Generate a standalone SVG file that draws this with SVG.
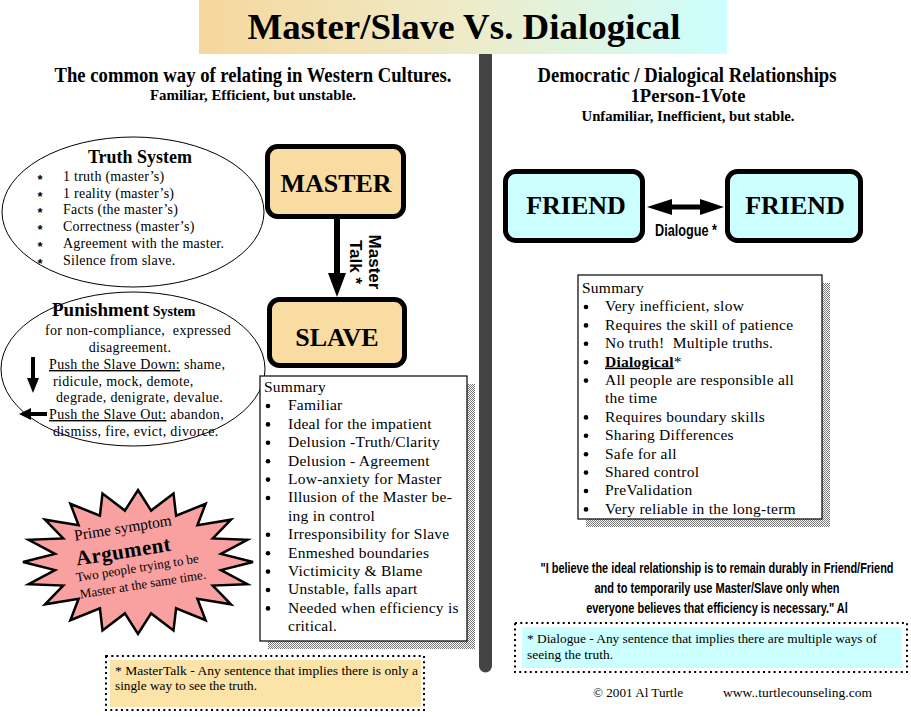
<svg xmlns="http://www.w3.org/2000/svg" width="911" height="717" viewBox="0 0 911 717">
<style>
.serif{font-family:"Liberation Serif","Times New Roman",serif;fill:#000}
.sans{font-family:"Liberation Sans",Arial,sans-serif;fill:#000}
.b{font-weight:bold}
.item{font-family:"Liberation Serif","Times New Roman",serif;font-size:14px;letter-spacing:0.25px;fill:#000}
.ast{font-family:"Liberation Sans",Arial,sans-serif;font-size:13px;font-weight:bold;fill:#000}
.pun{letter-spacing:0.35px}
.sum{font-family:"Liberation Serif","Times New Roman",serif;font-size:15.5px;letter-spacing:0.25px;fill:#000}
.node{stroke:#000;stroke-width:5}
.box{fill:#fff;stroke:#000;stroke-width:1.2}
.dots{fill:none;stroke:#000;stroke-width:2;stroke-dasharray:2 3.3}
.ell{fill:#fff;stroke:#000;stroke-width:1}
</style>
<defs>
<linearGradient id="tg" x1="0" y1="0" x2="1" y2="0">
<stop offset="0" stop-color="#F6D79C"/>
<stop offset="0.5" stop-color="#EEEBC8"/>
<stop offset="1" stop-color="#CCFFFF"/>
</linearGradient>
<pattern id="dither" width="2" height="2" patternUnits="userSpaceOnUse">
<rect width="2" height="2" fill="#fff"/>
<rect width="1" height="1" fill="#777"/>
<rect x="1" y="1" width="1" height="1" fill="#777"/>
</pattern>
</defs>
<rect width="911" height="717" fill="#fff"/>

<g id="title">
<rect x="199" y="0" width="528" height="54" fill="url(#tg)"/>
<text class="serif b" x="464" y="39" font-size="36" text-anchor="middle" textLength="433" lengthAdjust="spacingAndGlyphs">Master/Slave Vs. Dialogical</text>
</g>

<g id="divider">
<path d="M479,54 H492 V666 A6.5,6.5 0 0 1 479,666 Z" fill="#444"/>
</g>

<g id="heading-left">
<text class="serif b" x="253" y="82" font-size="20" text-anchor="middle" textLength="397" lengthAdjust="spacingAndGlyphs">The common way of relating in Western Cultures.</text>
<text class="serif b" x="253" y="100" font-size="15" text-anchor="middle" textLength="206" lengthAdjust="spacingAndGlyphs">Familiar, Efficient, but unstable.</text>
</g>

<g id="heading-right">
<text class="serif b" x="687" y="82" font-size="20" text-anchor="middle" textLength="299" lengthAdjust="spacingAndGlyphs">Democratic / Dialogical Relationships</text>
<text class="serif b" x="688" y="102" font-size="19" text-anchor="middle" textLength="115" lengthAdjust="spacingAndGlyphs">1Person-1Vote</text>
<text class="serif b" x="688" y="121" font-size="14" text-anchor="middle" textLength="213" lengthAdjust="spacingAndGlyphs">Unfamiliar, Inefficient, but stable.</text>
</g>

<g id="truth-system">
<ellipse class="ell" cx="133" cy="212" rx="131" ry="75"/>
<text class="serif b" x="140" y="163" font-size="18" text-anchor="middle">Truth System</text>
<g class="ast" text-anchor="middle">
<text x="40" y="184">*</text>
<text x="40" y="201">*</text>
<text x="40" y="217">*</text>
<text x="40" y="234">*</text>
<text x="40" y="251">*</text>
<text x="40" y="268">*</text>
</g>
<g class="item">
<text x="63" y="181">1 truth (master’s)</text>
<text x="63" y="198">1 reality (master’s)</text>
<text x="63" y="214">Facts (the master’s)</text>
<text x="63" y="231">Correctness (master’s)</text>
<text x="63" y="248">Agreement with the master.</text>
<text x="63" y="265">Silence from slave.</text>
</g>
</g>

<g id="punishment-system">
<ellipse class="ell" cx="133" cy="369" rx="132" ry="77"/>
<text class="serif b" x="52" y="316"><tspan font-size="19">Punishment</tspan><tspan font-size="14"> System</tspan></text>
<g class="item pun">
<text x="45" y="335" xml:space="preserve">for non-compliance,  expressed</text>
<text x="130" y="352" text-anchor="middle">disagreement.</text>
<text x="49" y="369"><tspan text-decoration="underline">Push the Slave Down:</tspan> shame,</text>
<text x="53" y="386">ridicule, mock, demote,</text>
<text x="56" y="402">degrade, denigrate, devalue.</text>
<text x="49" y="419"><tspan text-decoration="underline">Push the Slave Out:</tspan> abandon,</text>
<text x="53" y="436">dismiss, fire, evict, divorce.</text>
</g>
<line x1="33" y1="357" x2="33" y2="381" stroke="#000" stroke-width="4"/>
<polygon points="27,378 39,378 33,393" fill="#000"/>
<line x1="47" y1="414" x2="29" y2="414" stroke="#000" stroke-width="4"/>
<polygon points="19,414 31,408 31,420" fill="#000"/>
</g>

<g id="connectors">
<line x1="337" y1="219" x2="337" y2="276" stroke="#000" stroke-width="6"/>
<polygon points="328,273 346,273 337,297" fill="#000"/>
<line x1="668" y1="207" x2="704" y2="207" stroke="#000" stroke-width="5"/>
<polygon points="647,207 672,199 672,215" fill="#000"/>
<polygon points="724,207 700,199 700,215" fill="#000"/>
<text class="sans b" font-size="17" transform="translate(369,262) rotate(90)" text-anchor="middle">Master</text>
<text class="sans b" font-size="17" transform="translate(350,262) rotate(90)" text-anchor="middle">Talk *</text>
<text class="sans b" x="686" y="236" font-size="17" text-anchor="middle" textLength="62" lengthAdjust="spacingAndGlyphs">Dialogue *</text>
</g>

<g id="master">
<rect class="node" x="267.5" y="146.5" width="136" height="70" rx="10" fill="#F9DCA2"/>
<text class="serif b" x="336" y="192" font-size="26" text-anchor="middle">MASTER</text>
</g>

<g id="slave">
<rect class="node" x="269.5" y="299.5" width="135" height="66" rx="10" fill="#F9DCA2"/>
<text class="serif b" x="337" y="346" font-size="26" text-anchor="middle">SLAVE</text>
</g>

<g id="summary-left">
<rect x="268" y="384" width="207" height="265" fill="url(#dither)"/>
<rect class="box" x="260" y="376" width="207" height="265"/>
<g class="sum">
<text x="264" y="392">Summary</text>
<text x="288" y="410.4">Familiar</text>
<text x="288" y="428.8">Ideal for the impatient</text>
<text x="288" y="447.2">Delusion -Truth/Clarity</text>
<text x="288" y="465.6">Delusion - Agreement</text>
<text x="288" y="484">Low-anxiety for Master</text>
<text x="288" y="502.4">Illusion of the Master be-</text>
<text x="288" y="520.8">ing in control</text>
<text x="288" y="539.2">Irresponsibility for Slave</text>
<text x="288" y="557.6">Enmeshed boundaries</text>
<text x="288" y="576">Victimicity &amp; Blame</text>
<text x="288" y="594.4">Unstable, falls apart</text>
<text x="288" y="612.8">Needed when efficiency is</text>
<text x="288" y="631.2">critical.</text>
</g>
<g fill="#000">
<circle cx="268" cy="406" r="2.3"/><circle cx="268" cy="424.4" r="2.3"/><circle cx="268" cy="442.8" r="2.3"/>
<circle cx="268" cy="461.2" r="2.3"/><circle cx="268" cy="479.6" r="2.3"/><circle cx="268" cy="498" r="2.3"/>
<circle cx="268" cy="534.8" r="2.3"/><circle cx="268" cy="553.2" r="2.3"/><circle cx="268" cy="571.6" r="2.3"/>
<circle cx="268" cy="590" r="2.3"/><circle cx="268" cy="608.4" r="2.3"/>
</g>
</g>

<g id="prime-symptom">
<polygon points="138,490 151.1,510.6 173.5,493.5 176.1,515.7 205.6,503.8 197.4,525.2 231,519.7 212.8,538.4 247.4,539.8 221,553.9 253,562 221,570.1 247.4,584.2 212.8,585.6 231,604.3 197.4,598.8 205.6,620.2 176.1,608.3 173.5,630.5 151.1,613.4 138,634 124.9,613.4 102.5,630.5 99.9,608.3 70.4,620.2 78.6,598.8 45,604.3 63.2,585.6 28.6,584.2 55,570.1 23,562 55,553.9 28.6,539.8 63.2,538.4 45,519.7 78.6,525.2 70.4,503.8 99.9,515.7 102.5,493.5 124.9,510.6" fill="#F9A0A0" stroke="#000" stroke-width="2.5" stroke-linejoin="miter"/>
<g transform="rotate(-9 138 560)">
<text class="serif" x="128" y="531" font-size="15.5" text-anchor="middle">Prime symptom</text>
<text class="serif b" x="125" y="556" font-size="21" text-anchor="middle" fill="#222" letter-spacing="0.5">Argument</text>
<text class="serif" x="136" y="572" font-size="13" text-anchor="middle">Two people trying to be</text>
<text class="serif" x="139" y="589" font-size="13" text-anchor="middle">Master at the same time.</text>
</g>
</g>

<g id="footnote-left">
<rect x="110" y="660" width="311" height="47" fill="#FCE3A8"/>
<rect class="dots" x="106" y="656" width="318" height="54"/>
<text class="serif" x="115" y="675" font-size="13.5" textLength="303" lengthAdjust="spacingAndGlyphs">* MasterTalk - Any sentence that implies there is only a</text>
<text class="serif" x="115" y="690" font-size="13.5" textLength="142" lengthAdjust="spacingAndGlyphs">single way to see the truth.</text>
</g>

<g id="friend-left">
<rect class="node" x="505.5" y="171.5" width="137" height="69" rx="10" fill="#CCFFFF"/>
<text class="serif b" x="576" y="214" font-size="26" text-anchor="middle">FRIEND</text>
</g>

<g id="friend-right">
<rect class="node" x="727.5" y="171.5" width="133" height="69" rx="10" fill="#CCFFFF"/>
<text class="serif b" x="795" y="214" font-size="26" text-anchor="middle">FRIEND</text>
</g>

<g id="summary-right">
<rect x="586" y="283" width="244" height="244" fill="url(#dither)"/>
<rect class="box" x="578" y="275" width="244" height="244"/>
<g class="sum">
<text x="582" y="293">Summary</text>
<text x="605" y="311.4">Very inefficient, slow</text>
<text x="605" y="329.8">Requires the skill of patience</text>
<text x="605" y="348.2" xml:space="preserve">No truth!  Multiple truths.</text>
<text x="605" y="366.6"><tspan font-weight="bold" text-decoration="underline">Dialogical</tspan>*</text>
<text x="605" y="385">All people are responsible all</text>
<text x="605" y="403.4">the time</text>
<text x="605" y="421.8">Requires boundary skills</text>
<text x="605" y="440.2">Sharing Differences</text>
<text x="605" y="458.6">Safe for all</text>
<text x="605" y="477">Shared control</text>
<text x="605" y="495.4">PreValidation</text>
<text x="605" y="513.8">Very reliable in the long-term</text>
</g>
<g fill="#000">
<circle cx="586" cy="307" r="2.3"/><circle cx="586" cy="325.4" r="2.3"/><circle cx="586" cy="343.8" r="2.3"/>
<circle cx="586" cy="362.2" r="2.3"/><circle cx="586" cy="380.6" r="2.3"/><circle cx="586" cy="417.4" r="2.3"/>
<circle cx="586" cy="435.8" r="2.3"/><circle cx="586" cy="454.2" r="2.3"/><circle cx="586" cy="472.6" r="2.3"/>
<circle cx="586" cy="491" r="2.3"/><circle cx="586" cy="509.4" r="2.3"/>
</g>
</g>

<g id="quote">
<g transform="translate(717 573) scale(0.725 1)">
<text class="sans b" x="0" y="0" font-size="15.5" text-anchor="middle" textLength="487" lengthAdjust="spacingAndGlyphs">"I believe the ideal relationship is to remain durably in Friend/Friend</text>
</g>
<g transform="translate(717 593) scale(0.725 1)">
<text class="sans b" x="0" y="0" font-size="15.5" text-anchor="middle" textLength="338" lengthAdjust="spacingAndGlyphs">and to temporarily use Master/Slave only when</text>
</g>
<g transform="translate(717 613) scale(0.725 1)">
<text class="sans b" x="0" y="0" font-size="15.5" text-anchor="middle" textLength="361" lengthAdjust="spacingAndGlyphs">everyone believes that efficiency is necessary."  Al</text>
</g>
</g>

<g id="footnote-right">
<rect x="522" y="627" width="380" height="41" fill="#CCFFFF"/>
<rect class="dots" x="515" y="623" width="392" height="49"/>
<text class="serif" x="527" y="643" font-size="13.5" textLength="350" lengthAdjust="spacingAndGlyphs">* Dialogue - Any sentence that implies there are multiple ways of</text>
<text class="serif" x="527" y="659" font-size="13.5" textLength="86" lengthAdjust="spacingAndGlyphs">seeing the truth.</text>
</g>

<g id="copyright">
<text class="serif" x="593" y="697" font-size="12.5" textLength="90" lengthAdjust="spacingAndGlyphs">© 2001 Al Turtle</text>
<text class="serif" x="723" y="697" font-size="12.5" textLength="149" lengthAdjust="spacingAndGlyphs">www..turtlecounseling.com</text>
</g>
</svg>
